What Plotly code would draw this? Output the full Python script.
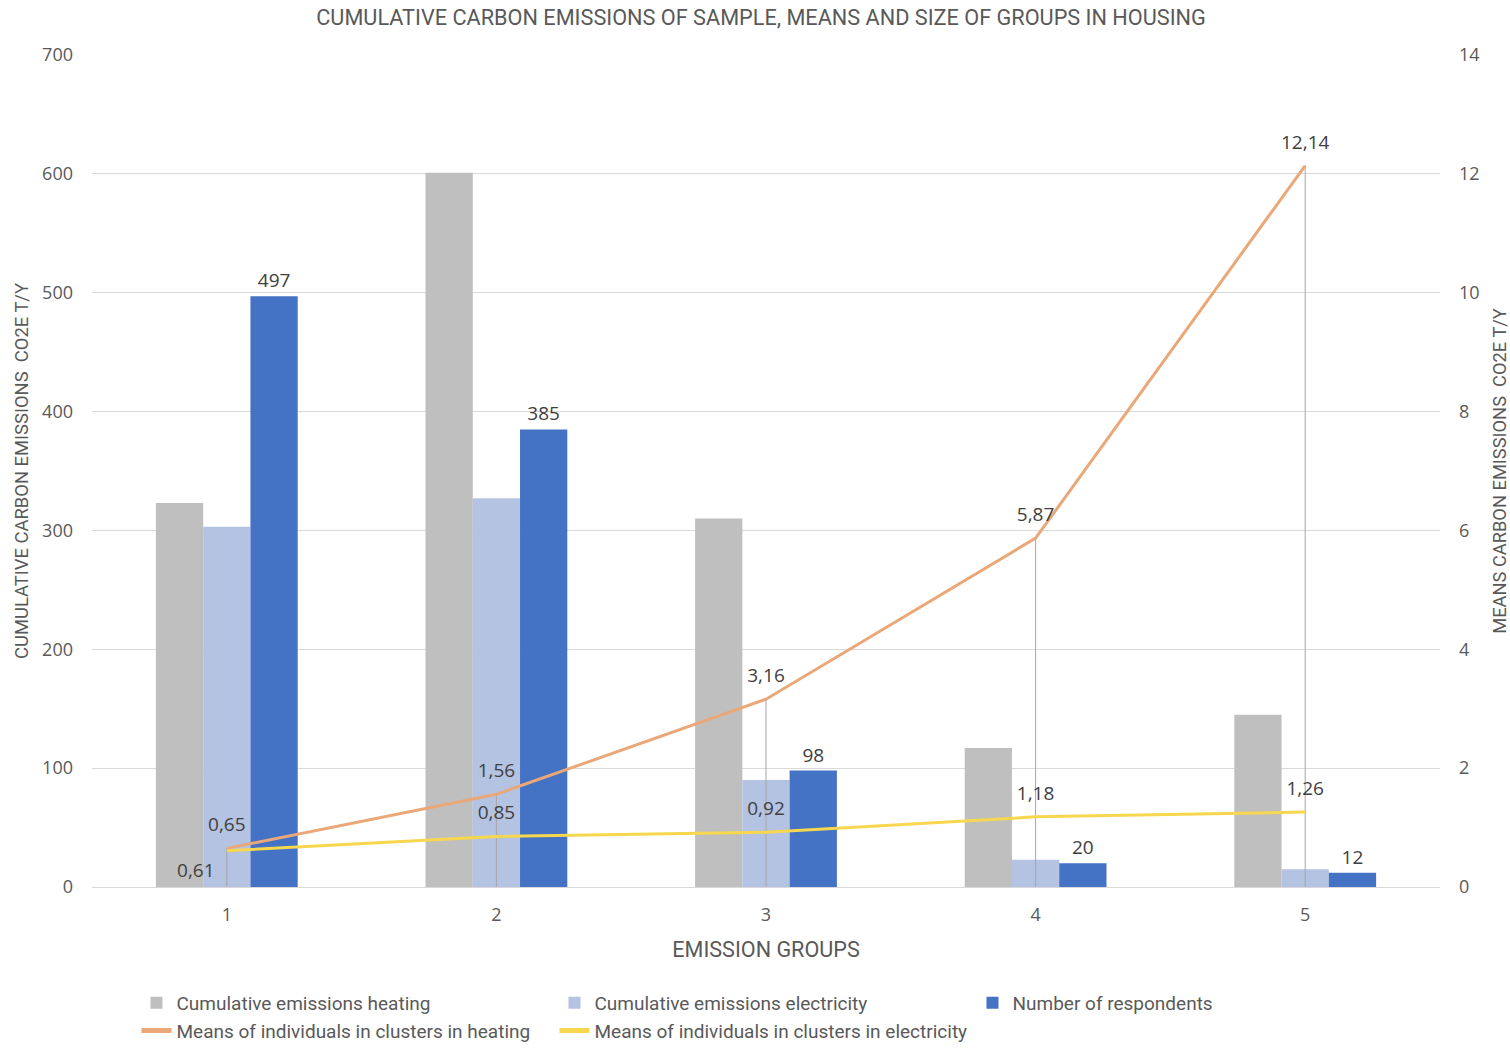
import plotly.graph_objects as go

groups = ["1", "2", "3", "4", "5"]
heating_cum = [323, 601, 310, 117, 145]
electricity_cum = [303, 327, 90, 23, 15]
respondents = [497, 385, 98, 20, 12]
heating_mean = [0.65, 1.56, 3.16, 5.87, 12.14]
electricity_mean = [0.61, 0.85, 0.92, 1.18, 1.26]
left_ticks = [0, 100, 200, 300, 400, 500, 600, 700]
right_ticks = [0, 2, 4, 6, 8, 10, 12, 14]

def fmt(v):
    return f"{v:.2f}".replace(".", ",")

TXT = "#595959"
NUM_FONT = "Open Sans, DejaVu Sans, sans-serif"
NARROW = "Roboto, Liberation Sans, sans-serif"

fig = go.Figure()
fig.add_trace(go.Bar(x=groups, y=heating_cum, name="Cumulative emissions heating",
                     marker=dict(color="#bfbfbf", line=dict(width=0))))
fig.add_trace(go.Bar(x=groups, y=electricity_cum, name="Cumulative emissions electricity",
                     marker=dict(color="#b4c3e2", line=dict(width=0))))
fig.add_trace(go.Bar(x=groups, y=respondents, name="Number of respondents",
                     marker=dict(color="#4472c4", line=dict(width=0)),
                     text=[str(v) for v in respondents], textposition="outside",
                     textfont=dict(family=NUM_FONT, size=19, color="#404040"),
                     cliponaxis=False))

# drop lines from highest line point to the axis
for g, h, e in zip(groups, heating_mean, electricity_mean):
    fig.add_trace(go.Scatter(x=[g, g], y=[0, max(h, e)], mode="lines", yaxis="y2",
                             line=dict(color="#a6a6a6", width=1), showlegend=False,
                             hoverinfo="skip"))

fig.add_trace(go.Scatter(x=groups, y=heating_mean, yaxis="y2",
                         name="Means of individuals in clusters in heating",
                         mode="lines+markers+text",
                         line=dict(color="#eaa879", width=3),
                         marker=dict(size=18, color="rgba(0,0,0,0)"),
                         text=[fmt(v) for v in heating_mean], textposition="top center",
                         textfont=dict(family=NUM_FONT, size=19, color="#404040"),
                         cliponaxis=False))
fig.add_trace(go.Scatter(x=groups, y=electricity_mean, yaxis="y2",
                         name="Means of individuals in clusters in electricity",
                         mode="lines+markers+text",
                         line=dict(color="#f7d74e", width=3),
                         marker=dict(size=18, color="rgba(0,0,0,0)"),
                         text=[fmt(v) for v in electricity_mean],
                         textposition=["bottom left", "top center", "top center", "top center", "top center"],
                         textfont=dict(family=NUM_FONT, size=19, color="#404040"),
                         cliponaxis=False))

fig.update_layout(
    width=1510, height=1050,
    margin=dict(l=92, r=70, t=55, b=163, autoexpand=False),
    paper_bgcolor="white", plot_bgcolor="white",
    barmode="group", bargap=0.474, bargroupgap=0,
    title=dict(text="CUMULATIVE CARBON EMISSIONS OF SAMPLE, MEANS AND SIZE OF GROUPS IN HOUSING",
               x=0.504, xanchor="center", y=1 - 17 / 1050, yanchor="middle", yref="container",
               font=dict(family=NARROW, size=21.7, color=TXT)),
    xaxis=dict(type="category", showgrid=False, showline=False, ticks="", automargin=False,
               ticklabelstandoff=15,
               tickfont=dict(family=NUM_FONT, size=18, color=TXT),
               title=dict(text="EMISSION GROUPS", standoff=16,
                          font=dict(family=NARROW, size=21.6, color=TXT))),
    yaxis=dict(range=[0, 700], tickvals=left_ticks, showgrid=True, gridcolor="#d9d9d9",
               gridwidth=1, zeroline=True, zerolinecolor="#d9d9d9", zerolinewidth=1,
               showline=False, ticks="", ticklabelstandoff=18, automargin=False,
               tickfont=dict(family=NUM_FONT, size=18, color=TXT),
               title=dict(text="CUMULATIVE CARBON EMISSIONS  CO2E T/Y", standoff=8,
                          font=dict(family=NARROW, size=18.4, color=TXT))),
    yaxis2=dict(range=[0, 14], tickvals=right_ticks, overlaying="y", side="right",
                showgrid=False, zeroline=False, showline=False, ticks="", ticklabelstandoff=18,
                automargin=False,
                tickfont=dict(family=NUM_FONT, size=18, color=TXT),
                title=dict(text="MEANS CARBON EMISSIONS  CO2E T/Y", standoff=14,
                           font=dict(family=NARROW, size=18.3, color=TXT))),
    legend=dict(orientation="h", x=0.033, xanchor="left", y=1 - 984 / 1050, yanchor="top",
                yref="container",
                entrywidth=373, entrywidthmode="pixels", traceorder="normal",
                font=dict(family=NARROW, size=19, color=TXT), itemsizing="constant"),
    showlegend=True,
)

fig.write_html("out.html")
